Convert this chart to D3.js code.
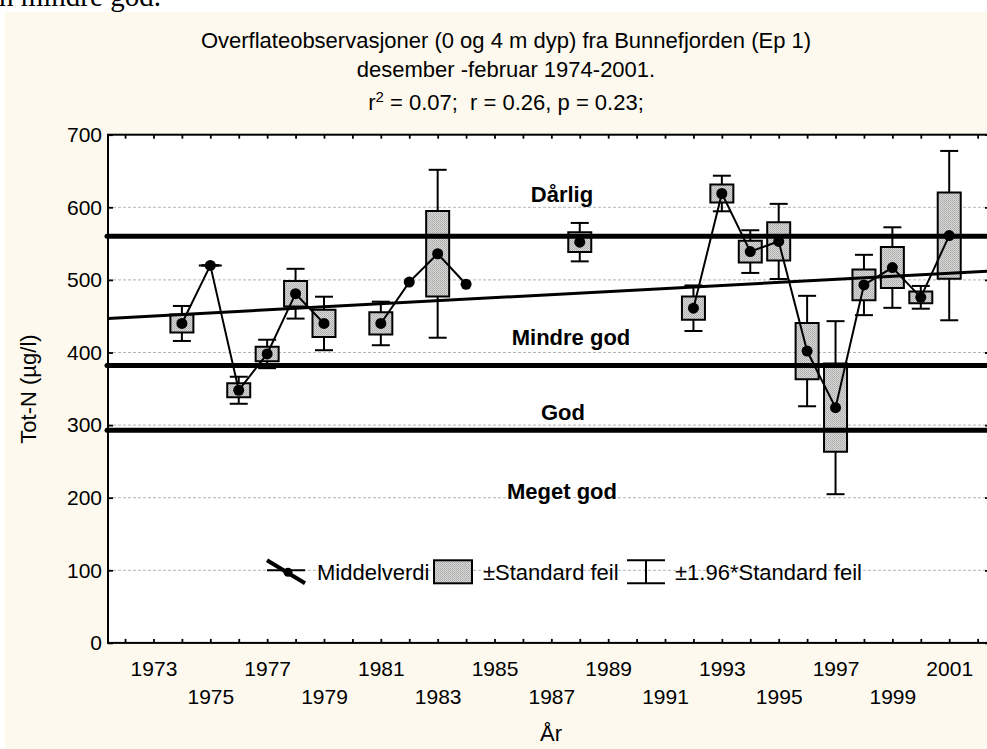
<!DOCTYPE html>
<html>
<head>
<meta charset="utf-8">
<script src="https://cdn.jsdelivr.net/npm/d3@7/dist/d3.min.js"></script>
<style>
  html, body { margin: 0; padding: 0; background: #ffffff; }
  svg { display: block; font-family: "Liberation Sans", Arial, sans-serif; }
</style>
</head>
<body>
<svg id="chart" width="987" height="749"></svg>
<script>
// Winter (Dec-Feb) surface Tot-N at Ep 1, Bunnefjorden
const years      = [1974, 1975, 1976, 1977, 1978, 1979, 1981, 1982, 1983, 1984, 1988, 1992, 1993, 1994, 1995, 1996, 1997, 1998, 1999, 2000, 2001];
const means      = [440, 520, 348, 398, 481, 440, 440, 497, 536, 494, 552, 461, 619, 539, 553, 402, 324, 493, 517, 476, 561];
const stdErrors  = [12.3, 0, 9.5, 10, 17.5, 18.8, 15.3, null, 59, null, 13.5, 16, 12.5, 15, 26.4, 38.8, 60.8, 21.2, 28.3, 8, 59.5];

// Class limits (µg/l) and the class names written between them
const classLimits      = [560, 382, 293];
const classNames       = ["Dårlig", "Mindre god", "God", "Meget god"];
const classLabelValues = [607, 410, 307, 198];

// Linear trend, values at the two ends of the year axis
const trendValues = [447, 512];

const yTicks       = [0, 100, 200, 300, 400, 500, 600, 700];
const xTickYears   = d3.range(1972, 2003);
const xLabelYears  = [1973, 1975, 1977, 1979, 1981, 1983, 1985, 1987, 1989, 1991, 1993, 1995, 1997, 1999, 2001];

const titleLines = [
  "Overflateobservasjoner (0 og 4 m dyp) fra Bunnefjorden (Ep 1)",
  "desember -februar 1974-2001."
];
const statsText = { r2: "0.07", r: "0.26", p: "0.23" };

const legendLabels = ["Middelverdi", "±Standard feil", "±1.96*Standard feil"];

// ---------------------------------------------------------------------------
const svg = d3.select("#chart");
const W = 987, H = 749;
const plot = { left: 108, right: 989, top: 134.7, bottom: 642.9 };

const x = d3.scaleLinear().domain([1971.4, 2002.4]).range([plot.left, plot.right]);
const y = d3.scaleLinear().domain([0, 700]).range([plot.bottom, plot.top]);

const defs = svg.append("defs");
const pat = defs.append("pattern").attr("id", "stipple")
  .attr("width", 2).attr("height", 2).attr("patternUnits", "userSpaceOnUse");
pat.append("rect").attr("width", 2).attr("height", 2).attr("fill", "#d6d6d4");
pat.append("rect").attr("x", 0).attr("y", 0).attr("width", 1).attr("height", 1).attr("fill", "#ababab");
pat.append("rect").attr("x", 1).attr("y", 1).attr("width", 1).attr("height", 1).attr("fill", "#b8b8b6");

// page background
svg.append("rect").attr("width", W).attr("height", H).attr("fill", "#ffffff");
svg.append("rect").attr("x", 5).attr("y", 11.7).attr("width", W - 5).attr("height", H - 11.7).attr("fill", "#fdf9ee");

// running text from the report above the figure
svg.append("text")
  .attr("x", -1).attr("y", 5.5)
  .attr("font-family", "'Liberation Serif', 'Times New Roman', serif")
  .attr("font-size", 29)
  .attr("fill", "#000")
  .text("n mindre god.");

// plot area
svg.append("rect")
  .attr("x", plot.left).attr("y", plot.top)
  .attr("width", plot.right - plot.left).attr("height", plot.bottom - plot.top)
  .attr("fill", "#ffffff");

// horizontal grid
svg.append("g").selectAll("line")
  .data(yTicks.filter(v => v > 0 && v < 700))
  .join("line")
  .attr("x1", plot.left).attr("x2", plot.right)
  .attr("y1", d => y(d)).attr("y2", d => y(d))
  .attr("stroke", "#b4b4b4").attr("stroke-width", 1)
  .attr("stroke-dasharray", "3,2");

// titles
const title = svg.append("g").attr("font-size", 22).attr("fill", "#000").attr("text-anchor", "middle");
title.append("text").attr("x", 506).attr("y", 48).text(titleLines[0]);
title.append("text").attr("x", 506).attr("y", 77).text(titleLines[1]);
const st = title.append("text").attr("x", 506).attr("y", 110).attr("xml:space", "preserve");
st.append("tspan").text("r");
st.append("tspan").attr("font-size", 15).attr("dy", -8).text("2");
st.append("tspan").attr("dy", 8).text(` = ${statsText.r2};  r = ${statsText.r}, p = ${statsText.p};`);

// data records
const pts = years.map((yr, i) => ({ year: yr, mean: means[i], se: stdErrors[i] }));

// ±1.96 SE whiskers
const boxW = 23, capW = 18;
const withSe = pts.filter(d => d.se !== null);
const whisk = svg.append("g").attr("stroke", "#000").attr("stroke-width", 2).attr("fill", "none");
withSe.forEach(d => {
  const cx = x(d.year);
  const hi = y(d.mean + 1.96 * d.se), lo = y(d.mean - 1.96 * d.se);
  whisk.append("line").attr("x1", cx).attr("x2", cx).attr("y1", hi).attr("y2", lo);
  whisk.append("line").attr("x1", cx - capW / 2).attr("x2", cx + capW / 2).attr("y1", hi).attr("y2", hi);
  whisk.append("line").attr("x1", cx - capW / 2).attr("x2", cx + capW / 2).attr("y1", lo).attr("y2", lo);
});

// ±SE boxes
svg.append("g").selectAll("path")
  .data(withSe)
  .join("path")
  .attr("d", d => {
    const x0 = x(d.year) - boxW / 2, x1 = x(d.year) + boxW / 2;
    const y0 = y(d.mean + d.se), y1 = y(d.mean - d.se);
    return `M${x0},${y0}H${x1}V${y1}H${x0}Z`;
  })
  .attr("fill", "url(#stipple)")
  .attr("stroke", "#000").attr("stroke-width", 2);

// class limits
svg.append("g").selectAll("line")
  .data(classLimits)
  .join("line")
  .attr("x1", plot.left - 1).attr("x2", plot.right)
  .attr("y1", d => y(d)).attr("y2", d => y(d))
  .attr("stroke", "#000").attr("stroke-width", 5).attr("stroke-linecap", "round");

// trend line
svg.append("line")
  .attr("x1", x(x.domain()[0])).attr("y1", y(trendValues[0]))
  .attr("x2", x(x.domain()[1])).attr("y2", y(trendValues[1]))
  .attr("stroke", "#000").attr("stroke-width", 3);

// class names
const classX = [562, 571, 563, 562];
svg.append("g").selectAll("text")
  .data(classNames)
  .join("text")
  .attr("x", (d, i) => classX[i])
  .attr("y", (d, i) => y(classLabelValues[i]))
  .attr("text-anchor", "middle")
  .attr("font-weight", "bold").attr("font-size", 22)
  .text(d => d);

// mean line, broken where years are missing
const runs = [];
pts.forEach((p, i) => {
  if (i === 0 || p.year - pts[i - 1].year > 1) runs.push([p]);
  else runs[runs.length - 1].push(p);
});
const meanLine = d3.line().x(d => x(d.year)).y(d => y(d.mean));
svg.append("g").selectAll("path")
  .data(runs.filter(r => r.length > 1))
  .join("path")
  .attr("d", meanLine)
  .attr("fill", "none").attr("stroke", "#000").attr("stroke-width", 2);

svg.append("g").selectAll("circle")
  .data(pts)
  .join("circle")
  .attr("cx", d => x(d.year)).attr("cy", d => y(d.mean))
  .attr("r", 5.5).attr("fill", "#000");

// frame
svg.append("rect")
  .attr("x", plot.left).attr("y", plot.top)
  .attr("width", plot.right - plot.left).attr("height", plot.bottom - plot.top)
  .attr("fill", "none").attr("stroke", "#000").attr("stroke-width", 2);

// axes (ticks point inward)
function styleAxis(g) {
  g.select(".domain").remove();
  g.selectAll(".tick line").attr("stroke", "#000").attr("stroke-width", 1.8);
  g.selectAll("text").attr("fill", "#000");
}
svg.append("g").attr("transform", `translate(0,${plot.bottom})`)
  .call(d3.axisBottom(x).tickValues(xTickYears).tickSize(-4).tickFormat(""))
  .call(styleAxis);
svg.append("g").attr("transform", `translate(0,${plot.top})`)
  .call(d3.axisTop(x).tickValues(xTickYears).tickSize(-4).tickFormat(""))
  .call(styleAxis);
svg.append("g").attr("transform", `translate(${plot.right},0)`)
  .call(d3.axisRight(y).tickValues(yTicks).tickSize(-4).tickFormat(""))
  .call(styleAxis);
const yAx = svg.append("g").attr("transform", `translate(${plot.left},0)`)
  .call(d3.axisLeft(y).tickValues(yTicks).tickSize(-5).tickPadding(6).tickFormat(d3.format("d")))
  .call(styleAxis);
yAx.selectAll("text").attr("font-size", 21).attr("font-family", "'Liberation Sans', Arial, sans-serif");

const xAx = svg.append("g").attr("transform", `translate(0,${plot.bottom})`)
  .call(d3.axisBottom(x).tickValues(xLabelYears).tickSize(0).tickFormat(d3.format("d")))
  .call(styleAxis);
xAx.selectAll("text")
  .attr("font-size", 21).attr("font-family", "'Liberation Sans', Arial, sans-serif")
  .attr("dy", null)
  .attr("y", (d, i) => (i % 2 === 0 ? 33.1 : 61.1));

// axis titles
svg.append("text")
  .attr("transform", `translate(36,389) rotate(-90)`)
  .attr("text-anchor", "middle").attr("font-size", 22)
  .text("Tot-N (µg/l)");
svg.append("text")
  .attr("x", 551).attr("y", 741)
  .attr("text-anchor", "middle").attr("font-size", 22)
  .text("År");

// legend
const lg = svg.append("g").attr("font-size", 22);
const ly = y(100);
lg.append("line").attr("x1", 267).attr("x2", 305).attr("y1", ly).attr("y2", ly)
  .attr("stroke", "#000").attr("stroke-width", 2);
lg.append("line").attr("x1", 267).attr("y1", ly - 10).attr("x2", 305).attr("y2", ly + 13)
  .attr("stroke", "#000").attr("stroke-width", 4);
lg.append("circle").attr("cx", 288).attr("cy", ly + 2).attr("r", 4.5).attr("fill", "#000");
lg.append("text").attr("x", 317).attr("y", ly + 10).text(legendLabels[0]);
lg.append("rect").attr("x", 434).attr("y", ly - 10).attr("width", 38).attr("height", 23)
  .attr("fill", "url(#stipple)").attr("stroke", "#000").attr("stroke-width", 2);
lg.append("text").attr("x", 483).attr("y", ly + 10).text(legendLabels[1]);
const wg = lg.append("g").attr("stroke", "#000").attr("stroke-width", 2);
wg.append("line").attr("x1", 627).attr("x2", 665).attr("y1", ly - 10).attr("y2", ly - 10);
wg.append("line").attr("x1", 627).attr("x2", 665).attr("y1", ly + 13).attr("y2", ly + 13);
wg.append("line").attr("x1", 646).attr("x2", 646).attr("y1", ly - 10).attr("y2", ly + 13);
lg.append("text").attr("x", 675).attr("y", ly + 10).text(legendLabels[2]);
</script>
</body>
</html>
